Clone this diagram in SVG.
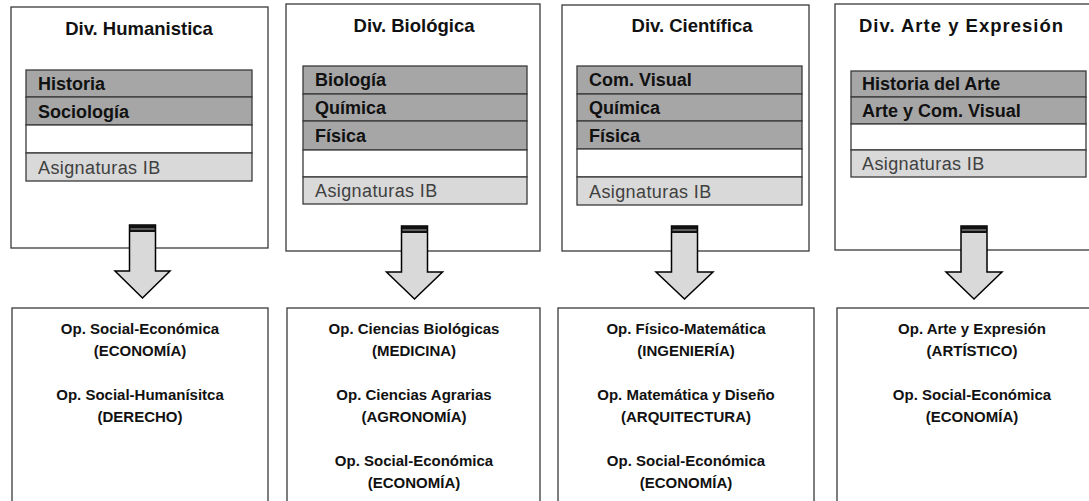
<svg xmlns="http://www.w3.org/2000/svg" width="1089" height="501" viewBox="0 0 1089 501">
<style>
.box{fill:#fff;stroke:#3a3a3a;stroke-width:1.3}
.dark{fill:#a6a6a6;stroke:#3a3a3a;stroke-width:1.3}
.white{fill:#fff;stroke:#3a3a3a;stroke-width:1.3}
.light{fill:#d9d9d9;stroke:#3a3a3a;stroke-width:1.3}
.title{font-family:"Liberation Sans",Arial,sans-serif;font-weight:bold;font-size:18.5px;fill:#111;text-anchor:middle}
.row{font-family:"Liberation Sans",Arial,sans-serif;font-weight:bold;font-size:18px;fill:#111}
.ib{font-family:"Liberation Sans",Arial,sans-serif;font-size:18px;letter-spacing:0.4px;fill:#404040}
.op{font-family:"Liberation Sans",Arial,sans-serif;font-weight:bold;font-size:15px;fill:#111;text-anchor:middle}
.arrow{fill:#d9d9d9;stroke:#000;stroke-width:1.5;stroke-linejoin:miter}
.band{fill:#111}
.stripe{stroke:#777;stroke-width:1.5}
</style>
<rect width="1089" height="501" fill="#fff"/>

<g id="div-humanistica">
<rect class="box" x="11" y="7" width="257" height="241"/>
<text class="title" x="139" y="35">Div. Humanistica</text>
<rect class="dark" x="26" y="70" width="226" height="27"/>
<rect class="dark" x="26" y="97" width="226" height="28"/>
<rect class="white" x="26" y="125" width="226" height="28"/>
<rect class="light" x="26" y="153" width="226" height="28"/>
<text class="row" x="38" y="90">Historia</text>
<text class="row" x="38" y="118">Sociología</text>
<text class="ib" x="38" y="174">Asignaturas IB</text>
</g>

<g id="div-biologica">
<rect class="box" x="286" y="4" width="254" height="247"/>
<text class="title" x="414" y="32">Div. Biológica</text>
<rect class="dark" x="303" y="66" width="224" height="28"/>
<rect class="dark" x="303" y="94" width="224" height="27"/>
<rect class="dark" x="303" y="121" width="224" height="29"/>
<rect class="white" x="303" y="150" width="224" height="27"/>
<rect class="light" x="303" y="177" width="224" height="27"/>
<text class="row" x="315" y="86">Biología</text>
<text class="row" x="315" y="114">Química</text>
<text class="row" x="315" y="142">Física</text>
<text class="ib" x="315" y="197">Asignaturas IB</text>
</g>

<g id="div-cientifica">
<rect class="box" x="562" y="5" width="247" height="246"/>
<text class="title" x="692" y="32">Div. Científica</text>
<rect class="dark" x="577" y="66" width="225" height="28"/>
<rect class="dark" x="577" y="94" width="225" height="27"/>
<rect class="dark" x="577" y="121" width="225" height="28"/>
<rect class="white" x="577" y="149" width="225" height="28"/>
<rect class="light" x="577" y="177" width="225" height="28"/>
<text class="row" x="589" y="86">Com. Visual</text>
<text class="row" x="589" y="114">Química</text>
<text class="row" x="589" y="142">Física</text>
<text class="ib" x="589" y="198">Asignaturas IB</text>
</g>

<g id="div-arte">
<rect class="box" x="835" y="4" width="256" height="246"/>
<text class="title" x="961" y="32" textLength="204" lengthAdjust="spacing">Div. Arte y Expresión</text>
<rect class="dark" x="851" y="71" width="235" height="26"/>
<rect class="dark" x="851" y="97" width="235" height="27"/>
<rect class="white" x="851" y="124" width="235" height="26"/>
<rect class="light" x="851" y="150" width="235" height="27"/>
<text class="row" x="862" y="90">Historia del Arte</text>
<text class="row" x="862" y="117">Arte y Com. Visual</text>
<text class="ib" x="862" y="170">Asignaturas IB</text>
</g>

<g id="op-humanistica">
<rect class="box" x="12" y="308" width="256" height="205"/>
<text class="op" x="140" y="334">Op. Social-Económica</text>
<text class="op" x="140" y="356">(ECONOMÍA)</text>
<text class="op" x="140" y="400">Op. Social-Humanísitca</text>
<text class="op" x="140" y="422">(DERECHO)</text>
</g>

<g id="op-biologica">
<rect class="box" x="287" y="308" width="253" height="205"/>
<text class="op" x="414" y="334">Op. Ciencias Biológicas</text>
<text class="op" x="414" y="356">(MEDICINA)</text>
<text class="op" x="414" y="400">Op. Ciencias Agrarias</text>
<text class="op" x="414" y="422">(AGRONOMÍA)</text>
<text class="op" x="414" y="466">Op. Social-Económica</text>
<text class="op" x="414" y="488">(ECONOMÍA)</text>
</g>

<g id="op-cientifica">
<rect class="box" x="558" y="308" width="256" height="205"/>
<text class="op" x="686" y="334">Op. Físico-Matemática</text>
<text class="op" x="686" y="356">(INGENIERÍA)</text>
<text class="op" x="686" y="400">Op. Matemática y Diseño</text>
<text class="op" x="686" y="422">(ARQUITECTURA)</text>
<text class="op" x="686" y="466">Op. Social-Económica</text>
<text class="op" x="686" y="488">(ECONOMÍA)</text>
</g>

<g id="op-arte">
<rect class="box" x="837" y="308" width="256" height="205"/>
<text class="op" x="972" y="334">Op. Arte y Expresión</text>
<text class="op" x="972" y="356">(ARTÍSTICO)</text>
<text class="op" x="972" y="400">Op. Social-Económica</text>
<text class="op" x="972" y="422">(ECONOMÍA)</text>
</g>

<g id="connectors">
<g transform="translate(142.5,0)">
<path class="arrow" d="M-13,225 H13 V271 H27.5 L0,298 L-27.5,271 H-13 Z"/>
<rect class="band" x="-13" y="225" width="26" height="7"/>
<line class="stripe" x1="-12" y1="229" x2="12" y2="229"/>
</g>
<g transform="translate(414.5,1)">
<path class="arrow" d="M-13,225 H13 V271 H28 L0,298 L-28,271 H-13 Z"/>
<rect class="band" x="-13" y="225" width="26" height="7"/>
<line class="stripe" x1="-12" y1="229" x2="12" y2="229"/>
</g>
<g transform="translate(684.5,1)">
<path class="arrow" d="M-13,225 H13 V271 H28.5 L0,298 L-28.5,271 H-13 Z"/>
<rect class="band" x="-13" y="225" width="26" height="7"/>
<line class="stripe" x1="-12" y1="229" x2="12" y2="229"/>
</g>
<g transform="translate(974,1)">
<path class="arrow" d="M-13,225 H13 V271 H28 L0,298 L-28,271 H-13 Z"/>
<rect class="band" x="-13" y="225" width="26" height="7"/>
<line class="stripe" x1="-12" y1="229" x2="12" y2="229"/>
</g>
</g>
</svg>
